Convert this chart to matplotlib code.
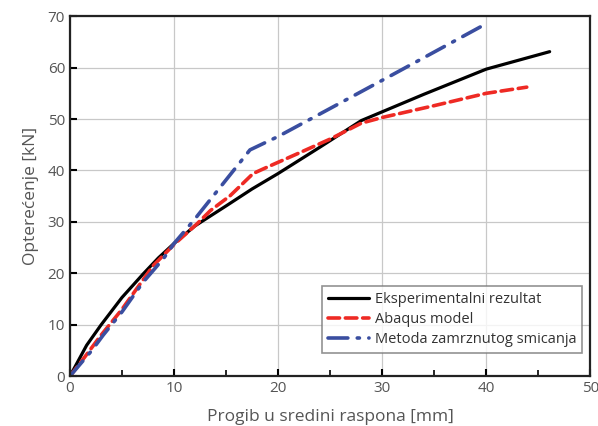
import matplotlib
matplotlib.use("Agg")
import matplotlib.pyplot as plt
from matplotlib.ticker import MultipleLocator

# deflection [mm] / load [kN]
exp_x = [0, 1.6, 3, 5, 7, 8.5, 10, 12, 15, 17.5, 20, 24, 28, 34, 40, 46.1]
exp_y = [0, 6, 10, 15.3, 19.8, 23, 25.8, 29.2, 33.1, 36.4, 39.4, 44.5, 49.7, 54.8, 59.7, 63.1]

abq_x = [0, 1.3, 3, 5, 8, 10, 12.2, 13.5, 15.4, 17.6, 18.9, 21.8, 25, 28, 30, 35, 40, 43.9]
abq_y = [0, 3.4, 8, 13, 21.5, 25.6, 29.6, 32.2, 35.1, 39.4, 40.6, 43.2, 46.1, 49.2, 50.3, 52.6, 55.0, 56.2]

mzs_x = [0, 2.1, 3.2, 5, 7, 9, 10, 11.9, 17.3, 20, 25.5, 30.8, 39.7]
mzs_y = [0, 5, 8, 12.5, 18.2, 22.9, 25.8, 30.3, 44, 46.6, 52.6, 58.4, 68.2]

labels = ["Eksperimentalni rezultat", "Abaqus model", "Metoda zamrznutog smicanja"]

plt.rcParams['font.family'] = ['Open Sans', 'DejaVu Sans']
txt = "#555555"

fig = plt.figure(figsize=(5.98, 4.26), dpi=100)
ax = fig.add_axes([0.117, 0.117, 0.870, 0.845])

ax.plot(exp_x, exp_y, color="black", lw=2.3, solid_capstyle="round", label=labels[0])
ax.plot(abq_x, abq_y, color="#ee2a24", lw=2.6, dashes=(3.2, 1.6), dash_capstyle="round",
        label=labels[1])
ax.plot(mzs_x, mzs_y, color="#3a4ea0", lw=2.6, dashes=(5.5, 2.6, 0.6, 2.6), dash_capstyle="round",
        label=labels[2])

ax.set_xlim(0, 50)
ax.set_ylim(0, 70)
ax.xaxis.set_major_locator(MultipleLocator(10))
ax.xaxis.set_minor_locator(MultipleLocator(5))
ax.yaxis.set_major_locator(MultipleLocator(10))
ax.grid(True, which="major", color="#c8c8c8", lw=0.9)
ax.set_axisbelow(True)
ax.tick_params(which="both", direction="in", colors="black", labelcolor=txt, labelsize=11,
               top=False, right=False)
ax.tick_params(which="major", length=5, width=1.5)
ax.tick_params(which="minor", length=4, width=1.2)
for s in ax.spines.values():
    s.set_linewidth(1.6)
    s.set_color("#222222")

ax.set_xlabel("Progib u sredini raspona [mm]", color=txt, fontsize=12.5, labelpad=9)
ax.set_ylabel("Opterećenje [kN]", color=txt, fontsize=12.5, labelpad=6)

leg = ax.legend(loc="lower right", bbox_to_anchor=(0.985, 0.065), fontsize=10.5, frameon=True,
                fancybox=False, edgecolor="#777777", handlelength=2.8, borderpad=0.4,
                labelspacing=0.35, handletextpad=0.4, borderaxespad=0)
leg.get_frame().set_linewidth(1.2)
for t in leg.get_texts():
    t.set_color("#333333")

fig.savefig("out.png", dpi=100)
